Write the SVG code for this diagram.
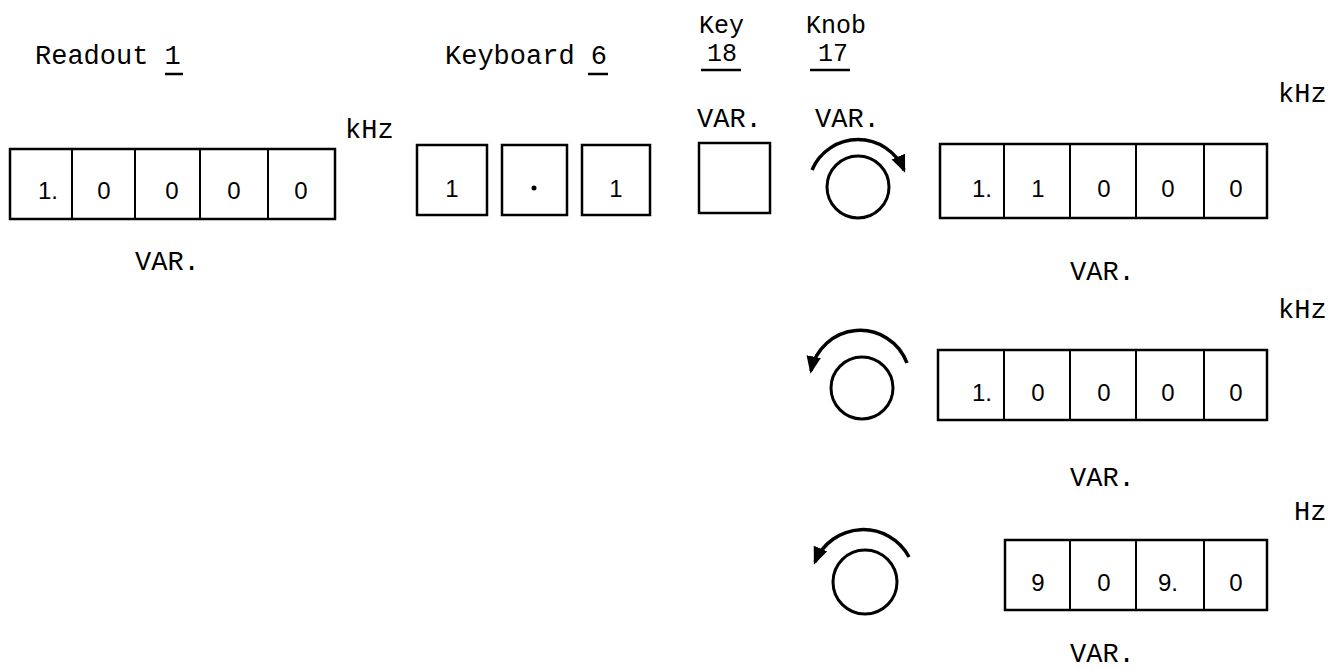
<svg xmlns="http://www.w3.org/2000/svg" width="1330" height="670" viewBox="0 0 1330 670">
<style>
.lbl{font-family:"Liberation Mono","DejaVu Sans Mono",monospace;font-size:27px;fill:#000}
.sm{font-size:25px}
.dg{font-family:"Liberation Sans",Arial,sans-serif;font-size:24px;fill:#000;text-anchor:middle}
.box{fill:none;stroke:#000;stroke-width:2.5}
.ln{stroke:#000;stroke-width:2}
.ul{stroke:#000;stroke-width:2.5}
.knob{fill:none;stroke:#000;stroke-width:3}
.arc{fill:none;stroke:#000;stroke-width:3.5}
</style>
<defs>
<marker id="ah" viewBox="0 0 12 10" refX="10" refY="5" markerWidth="5" markerHeight="4.5" orient="auto" markerUnits="strokeWidth">
<path d="M0,0 L12,5 L0,10 z" fill="#000"/>
</marker>
</defs>
<rect width="1330" height="670" fill="#fff"/>

<g id="readout-left">
<text class="lbl" x="35" y="64">Readout 1</text>
<line class="ul" x1="165" y1="74" x2="183" y2="74"/>
<text class="lbl" x="345" y="138">kHz</text>
<rect class="box" x="10" y="149" width="325" height="70"/>
<line class="ln" x1="72" y1="149" x2="72" y2="219"/>
<line class="ln" x1="135" y1="149" x2="135" y2="219"/>
<line class="ln" x1="200" y1="149" x2="200" y2="219"/>
<line class="ln" x1="268" y1="149" x2="268" y2="219"/>
<text class="dg" x="48" y="199">1.</text>
<text class="dg" x="104" y="199">0</text>
<text class="dg" x="172" y="199">0</text>
<text class="dg" x="234" y="199">0</text>
<text class="dg" x="301" y="199">0</text>
<text class="lbl" x="135" y="270">VAR.</text>
</g>

<g id="keyboard">
<text class="lbl" x="445" y="64">Keyboard 6</text>
<line class="ul" x1="588" y1="74" x2="608" y2="74"/>
<rect class="box" x="417" y="145" width="70" height="70"/>
<rect class="box" x="502" y="145" width="65" height="70"/>
<rect class="box" x="582" y="145" width="68" height="70"/>
<text class="dg" x="452" y="197">1</text>
<circle cx="534" cy="188" r="2.5" fill="#000"/>
<text class="dg" x="616" y="197">1</text>
</g>

<g id="key">
<text class="lbl sm" x="699" y="33">Key</text>
<text class="lbl sm" x="707" y="61">18</text>
<line class="ul" x1="701" y1="70" x2="741" y2="70"/>
<text class="lbl" x="697" y="127">VAR.</text>
<rect class="box" x="699" y="143" width="71" height="70"/>
</g>

<g id="knob-1">
<text class="lbl sm" x="806" y="33">Knob</text>
<text class="lbl sm" x="818" y="61">17</text>
<line class="ul" x1="810" y1="70" x2="850" y2="70"/>
<text class="lbl" x="815" y="127">VAR.</text>
<path class="arc" d="M812,170 A50,50 0 0 1 904,170" marker-end="url(#ah)"/>
<circle class="knob" cx="858" cy="187" r="31"/>
</g>

<g id="readout-right-1">
<text class="lbl" x="1278" y="102">kHz</text>
<rect class="box" x="940" y="144" width="327" height="74"/>
<line class="ln" x1="1004" y1="144" x2="1004" y2="218"/>
<line class="ln" x1="1070" y1="144" x2="1070" y2="218"/>
<line class="ln" x1="1136" y1="144" x2="1136" y2="218"/>
<line class="ln" x1="1204" y1="144" x2="1204" y2="218"/>
<text class="dg" x="982" y="197">1.</text>
<text class="dg" x="1038" y="197">1</text>
<text class="dg" x="1104" y="197">0</text>
<text class="dg" x="1168" y="197">0</text>
<text class="dg" x="1236" y="197">0</text>
<text class="lbl" x="1070" y="280">VAR.</text>
</g>

<g id="knob-2">
<path class="arc" d="M907,363 A50,50 0 0 0 811,371" marker-end="url(#ah)"/>
<circle class="knob" cx="862" cy="388" r="31"/>
</g>

<g id="readout-right-2">
<text class="lbl" x="1278" y="318">kHz</text>
<rect class="box" x="938" y="350" width="329" height="70"/>
<line class="ln" x1="1004" y1="350" x2="1004" y2="420"/>
<line class="ln" x1="1070" y1="350" x2="1070" y2="420"/>
<line class="ln" x1="1136" y1="350" x2="1136" y2="420"/>
<line class="ln" x1="1204" y1="350" x2="1204" y2="420"/>
<text class="dg" x="982" y="401">1.</text>
<text class="dg" x="1038" y="401">0</text>
<text class="dg" x="1104" y="401">0</text>
<text class="dg" x="1168" y="401">0</text>
<text class="dg" x="1236" y="401">0</text>
<text class="lbl" x="1070" y="486">VAR.</text>
</g>

<g id="knob-3">
<path class="arc" d="M909,557 A52,52 0 0 0 815,562" marker-end="url(#ah)"/>
<circle class="knob" cx="865" cy="582" r="32"/>
</g>

<g id="readout-right-3">
<text class="lbl" x="1294" y="520">Hz</text>
<rect class="box" x="1005" y="540" width="262" height="70"/>
<line class="ln" x1="1070" y1="540" x2="1070" y2="610"/>
<line class="ln" x1="1136" y1="540" x2="1136" y2="610"/>
<line class="ln" x1="1204" y1="540" x2="1204" y2="610"/>
<text class="dg" x="1038" y="591">9</text>
<text class="dg" x="1104" y="591">0</text>
<text class="dg" x="1168" y="591">9.</text>
<text class="dg" x="1236" y="591">0</text>
<text class="lbl" x="1070" y="662">VAR.</text>
</g>
</svg>
